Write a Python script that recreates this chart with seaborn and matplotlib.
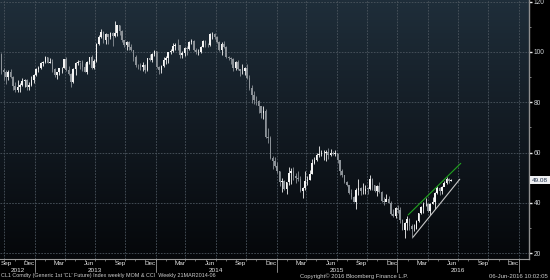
import matplotlib
matplotlib.use("Agg")
import matplotlib.pyplot as plt
import matplotlib.dates as mdates
import matplotlib.transforms as mtrans
from matplotlib.colors import LinearSegmentedColormap
import numpy as np
import pandas as pd
import seaborn as sns

# ---------------- data (weekly CL1 candles) ----------------
first_week_end = "2012-09-21"
first_open = 99.00
close = [92.89, 92.19, 89.88, 91.86, 90.05, 86.28, 84.86, 86.07, 86.92, 88.28,
         88.91, 85.93, 86.73, 88.66, 90.80,
         93.09, 93.56, 95.56, 95.88, 97.77, 95.72, 95.86, 93.13, 90.68, 91.95,
         93.45, 93.71, 97.23, 92.70, 91.29, 88.01, 93.00, 95.61, 96.04, 96.02,
         94.15, 91.97, 96.03, 97.85, 93.69, 96.56, 103.22, 105.95, 108.05, 104.70,
         106.94, 105.97, 107.46, 106.42, 107.65, 110.53, 108.21, 104.67, 102.87, 103.84,
         102.02, 100.81, 97.85, 94.61, 94.60, 93.84, 94.84, 92.72, 97.65, 96.60,
         99.32, 100.32,
         93.96, 92.72, 94.37, 96.64, 97.49, 99.88, 100.30, 102.20, 102.59, 102.58,
         98.89, 99.46, 101.67, 101.14, 103.74, 104.30, 100.60, 99.76, 99.99, 102.02,
         104.35, 102.71, 102.66, 106.91, 107.26, 105.74, 104.06, 100.83, 103.13, 102.09,
         97.88, 97.65, 97.35, 93.65, 95.96, 93.29, 92.27, 92.41, 93.54, 89.74,
         85.82, 82.75, 81.01, 80.54, 78.65, 75.82, 76.51, 66.15, 65.84, 57.81,
         56.52, 54.73,
         52.69, 48.36, 48.69, 45.59, 48.24, 51.69, 52.78, 50.81, 49.76, 49.61,
         44.84, 45.72, 48.87, 49.14, 51.64, 55.74, 57.15, 59.15, 59.39, 59.69,
         59.72, 60.30, 59.13, 59.96, 59.61, 59.63, 56.93, 52.74, 50.89, 48.14,
         47.12, 43.87, 42.50, 40.45, 45.22, 46.05, 44.63, 44.68, 45.70, 45.54,
         49.63, 47.26, 44.60, 46.59, 44.29, 40.74, 40.39, 41.71, 39.97, 35.62,
         34.73, 38.10, 37.04,
         33.16, 29.42, 32.19, 33.62, 30.89, 29.44, 29.64, 32.78, 35.92, 38.50,
         39.44, 39.46, 36.79, 39.72, 40.36, 43.73, 45.92, 44.66, 46.21, 47.75,
         49.33, 48.62, 49.08]
high = [99.62, 93.45, 92.77, 92.70, 93.17, 90.26, 87.95, 89.00, 87.45, 89.60,
        89.22, 89.25, 87.96, 90.54, 91.22,
        93.62, 94.25, 96.00, 96.23, 98.24, 97.84, 97.72, 97.00, 93.65, 92.13,
        93.75, 94.00, 97.35, 97.80, 94.49, 91.54, 93.61, 95.87, 96.92, 96.11,
        96.92, 95.46, 96.21, 97.86, 98.74, 97.32, 103.68, 106.62, 108.93, 108.30,
        107.47, 106.99, 107.95, 107.91, 112.24, 110.68, 110.71, 108.81, 104.65, 104.49,
        104.36, 103.24, 100.80, 98.80, 95.23, 95.44, 95.78, 95.19, 97.71, 98.96,
        99.58, 100.75,
        100.40, 94.20, 94.70, 97.84, 98.51, 100.10, 101.02, 103.57, 103.38, 105.22,
        102.66, 100.47, 101.85, 102.22, 104.12, 104.99, 104.65, 101.48, 101.00, 102.44,
        104.52, 104.67, 103.50, 107.68, 107.73, 107.50, 106.48, 104.46, 103.92, 104.34,
        102.24, 98.49, 98.08, 97.38, 96.29, 96.85, 93.36, 95.18, 94.09, 95.25,
        90.88, 86.70, 84.45, 82.55, 80.79, 78.42, 78.46, 77.14, 69.60, 66.62,
        58.49, 58.09,
        56.19, 52.73, 49.94, 49.27, 48.30, 54.24, 53.81, 54.24, 51.68, 52.48,
        50.49, 46.45, 52.48, 50.82, 53.19, 57.42, 58.41, 59.90, 62.58, 61.13,
        60.87, 60.97, 61.64, 61.57, 60.70, 61.09, 59.73, 56.41, 53.40, 51.26,
        48.80, 47.07, 45.54, 42.61, 45.88, 49.49, 46.37, 47.73, 47.18, 46.25,
        50.92, 49.85, 47.28, 47.05, 48.36, 44.75, 42.47, 43.46, 42.56, 40.69,
        37.50, 38.20, 38.99,
        38.39, 33.65, 32.35, 34.82, 34.05, 31.53, 31.50, 33.37, 36.08, 38.77,
        40.20, 41.90, 39.76, 39.97, 42.42, 44.49, 46.78, 46.49, 46.76, 48.72,
        50.21, 49.80, 49.46]
low = [91.19, 88.95, 87.35, 88.94, 89.62, 84.92, 84.22, 84.05, 84.05, 86.56,
       85.86, 84.90, 84.83, 86.43, 87.50,
       90.55, 92.10, 93.04, 94.48, 95.50, 95.52, 95.38, 92.02, 90.03, 89.33,
       90.98, 91.47, 93.55, 92.57, 90.91, 86.06, 87.75, 90.72, 94.63, 93.01,
       92.59, 91.82, 91.23, 95.14, 93.10, 93.20, 96.10, 102.87, 105.54, 103.65,
       103.28, 103.25, 104.94, 102.50, 105.85, 106.20, 106.55, 104.01, 101.86, 100.62,
       100.80, 100.21, 96.30, 94.07, 93.21, 92.81, 92.51, 91.77, 92.52, 96.53,
       96.15, 98.48,
       93.66, 91.24, 91.50, 93.97, 95.32, 95.57, 99.10, 100.04, 100.77, 100.87,
       97.37, 97.70, 98.38, 98.84, 100.93, 103.07, 100.50, 99.21, 98.81, 99.66,
       101.92, 101.98, 101.99, 102.52, 105.11, 105.12, 103.69, 100.48, 98.64, 101.56,
       97.52, 96.63, 95.25, 92.50, 92.71, 92.64, 90.43, 91.26, 90.90, 89.18,
       84.96, 79.78, 79.44, 78.97, 75.84, 73.75, 73.25, 65.69, 63.72, 57.34,
       53.60, 54.30,
       52.03, 46.83, 44.20, 45.15, 43.58, 47.04, 47.36, 49.06, 47.84, 48.60,
       44.43, 42.03, 45.30, 47.08, 49.06, 51.53, 55.34, 56.52, 58.26, 58.66,
       57.10, 56.51, 57.33, 58.53, 58.85, 58.57, 55.80, 51.18, 50.28, 47.72,
       46.68, 43.61, 41.35, 40.21, 37.75, 43.21, 43.27, 43.41, 43.68, 43.53,
       45.25, 45.24, 44.22, 42.58, 44.10, 40.50, 38.99, 40.90, 39.85, 35.35,
       34.53, 33.98, 36.10,
       32.10, 29.13, 26.19, 29.25, 29.05, 26.05, 28.66, 29.71, 32.45, 35.63,
       35.95, 38.92, 36.50, 35.24, 39.45, 37.61, 43.40, 43.03, 43.45, 46.64,
       47.50, 47.80, 48.60]

upper_trend_dates = ["2016-02-02", "2016-07-10"]
upper_trend_vals = [35.2, 55.7]
lower_trend_dates = ["2016-02-17", "2016-07-07"]
lower_trend_vals = [26.4, 49.4]
last_price = 49.08

y_ticks = [20, 40, 60, 80, 100, 120]
y_minor = [30, 50, 70, 90, 110]
month_labels = {3: "Mar", 6: "Jun", 9: "Sep", 12: "Dec"}
years = [2012, 2013, 2014, 2015, 2016]

footer_left = "CL1 Comdty (Generic 1st 'CL' Future) Index weekly MOM & CCI  Weekly 21MAR2014-06"
footer_mid = "Copyright\u00a9 2016 Bloomberg Finance L.P."
footer_right = "06-Jun-2016 10:02:05"

# ---------------- style ----------------
sns.set_style("dark")
plt.rcParams["font.family"] = ["Liberation Sans", "DejaVu Sans"]

W, H = 550, 280
fig = plt.figure(figsize=(W / 100, H / 100), dpi=100, facecolor="black")
ax_bottom_px = 259
ax_right_px = 529
ax = fig.add_axes([0, 1 - ax_bottom_px / H, ax_right_px / W, ax_bottom_px / H])
ax.set_facecolor("#0b0f14")

x_left = pd.Timestamp("2012-09-18")
x_right = pd.Timestamp("2017-02-01")
ylo, yhi = 17.7, 120.6

# gradient background
grad = np.linspace(0, 1, 256).reshape(-1, 1)
cmap = LinearSegmentedColormap.from_list("bg", ["#1f2e3a", "#121a22", "#05070a"])
ax.imshow(grad, extent=[0, 1, 0, 1], transform=ax.transAxes, cmap=cmap,
          aspect="auto", zorder=0, interpolation="bilinear")

# grid
grid_kw = dict(color="#4b555e", lw=0.6, ls=(0, (2, 1.5)), zorder=1)
for yv in y_ticks:
    ax.axhline(yv, **grid_kw)
for q in pd.date_range("2012-10-01", "2017-01-01", freq="QS"):
    ax.axvline(mdates.date2num(q), **grid_kw)

# candles
weeks = pd.date_range(first_week_end, periods=len(close), freq="W-FRI")
xpos = mdates.date2num(weeks + pd.Timedelta(days=1))
opens = [first_open] + close[:-1]
df = pd.DataFrame({"x": xpos, "open": opens, "high": high, "low": low, "close": close})
up = df["close"] >= df["open"]
cols = np.where(up, "#f4f4f4", "#8c9298")
ax.vlines(df["x"], df["low"], df["high"], colors=cols, lw=0.6, zorder=3)
body_lo = np.minimum(df["open"], df["close"])
body_h = np.maximum((df["close"] - df["open"]).abs(), 0.25)
ax.bar(df["x"], body_h, bottom=body_lo, width=4.8, color=cols, lw=0, zorder=4)

# trend channel
up_df = pd.DataFrame({"x": mdates.date2num(pd.to_datetime(upper_trend_dates)), "y": upper_trend_vals})
lo_df = pd.DataFrame({"x": mdates.date2num(pd.to_datetime(lower_trend_dates)), "y": lower_trend_vals})
sns.lineplot(data=up_df, x="x", y="y", ax=ax, color="#1fa31f", lw=0.8, zorder=5)
sns.lineplot(data=lo_df, x="x", y="y", ax=ax, color="#c8c8c8", lw=0.8, zorder=5)

ax.set_xlim(mdates.date2num(x_left), mdates.date2num(x_right))
ax.set_ylim(ylo, yhi)
ax.set_xlabel("")
ax.set_ylabel("")

# spines
for s in ["top", "left"]:
    ax.spines[s].set_visible(False)
ax.spines["right"].set_visible(True)
ax.spines["right"].set_color("#8f8f8f")
ax.spines["right"].set_linewidth(1.0)
ax.spines["bottom"].set_visible(True)
ax.spines["bottom"].set_color("#9a9a9a")
ax.spines["bottom"].set_linewidth(0.8)

# y axis on right
ax.yaxis.tick_right()
ax.set_yticks(y_ticks)
ax.set_yticklabels([str(v) for v in y_ticks])
ax.set_yticks(y_minor, minor=True)
ax.tick_params(axis="y", which="major", colors="#f0f0f0", labelcolor="#cfd3d6",
               labelsize=4.8, length=2.2, width=1.0, pad=1.2, right=True, left=False)
ax.tick_params(axis="y", which="minor", colors="#9a9a9a", length=1.5, width=0.6,
               right=True, left=False)

# x axis: monthly ticks, custom labels
ax.set_xticks(mdates.date2num(pd.date_range("2012-10-01", "2017-01-01", freq="MS")))
ax.set_xticklabels([])
ax.tick_params(axis="x", which="major", colors="#9a9a9a", length=1.5, width=0.5, bottom=True)

blend = mtrans.blended_transform_factory(ax.transData, ax.transAxes)
xl_num = mdates.date2num(x_left)
px_per_day = ax_right_px / (mdates.date2num(x_right) - xl_num)
for m_start in pd.date_range("2012-09-01", "2016-12-01", freq="MS"):
    if m_start.month in month_labels:
        xc = mdates.date2num(m_start + pd.Timedelta(days=14))
        ha = "center"
        if xc - xl_num < 5 / px_per_day:
            xc = xl_num + 1 / px_per_day
            ha = "left"
        ax.text(xc, -4.8 / ax_bottom_px, month_labels[m_start.month], transform=blend,
                ha=ha, va="center", fontsize=4.6, color="#e6e6e6", clip_on=False)

for yr in years:
    if yr == 2012:
        xc = (xl_num + mdates.date2num(pd.Timestamp("2013-01-01"))) / 2
    else:
        xc = mdates.date2num(pd.Timestamp(f"{yr}-07-01"))
    ax.text(xc, -11.5 / ax_bottom_px, str(yr), transform=blend, ha="center",
            va="center", fontsize=4.6, color="#e6e6e6", clip_on=False)

for yr in [2013, 2014, 2015, 2016, 2017]:
    xs = mdates.date2num(pd.Timestamp(f"{yr}-01-01"))
    ax.plot([xs, xs], [0, -13 / ax_bottom_px], transform=blend, color="#9a9a9a",
            lw=0.6, clip_on=False, zorder=6)

# last price tag
ax.text(1.0 + 3 / ax_right_px, last_price, f"{last_price:.2f}",
        transform=mtrans.blended_transform_factory(ax.transAxes, ax.transData),
        ha="left", va="center", fontsize=4.6, color="#1b2a44", clip_on=False,
        bbox=dict(boxstyle="square,pad=0.25", fc="#eef0f2", ec="none"), zorder=10)

# footer
fy = 1 - 276 / H
fig.text(1 / W, fy, footer_left, ha="left", va="center", fontsize=3.9, color="#cfcfcf")
fig.text(354 / W, fy, footer_mid, ha="center", va="center", fontsize=4.2, color="#cfcfcf")
fig.text(548 / W, fy, footer_right, ha="right", va="center", fontsize=4.3, color="#cfcfcf")

fig.savefig("out.png", dpi=100, facecolor="black")
